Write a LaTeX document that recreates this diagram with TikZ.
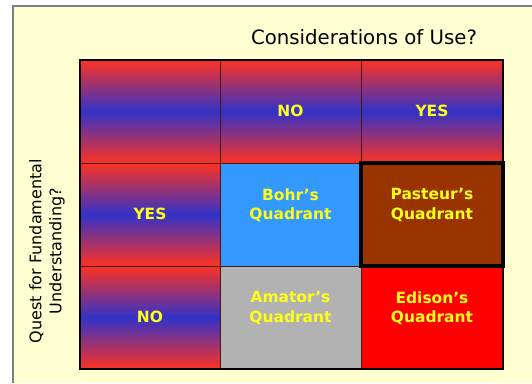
\documentclass[tikz,border=0pt]{standalone}
\usepackage{fontspec}
\setmainfont{DejaVu Sans}
\definecolor{paper}{HTML}{FFFFD2}
\definecolor{headred}{HTML}{F53228}
\definecolor{headblue}{HTML}{3232C8}
\definecolor{bohrblue}{HTML}{3399FF}
\definecolor{pasteurbrown}{HTML}{993300}
\definecolor{amatorgray}{HTML}{B2B2B2}
\definecolor{edisonred}{HTML}{FF0000}
\definecolor{labelyellow}{HTML}{FFFF1A}
\definecolor{gridline}{HTML}{4A1818}
\pgfdeclareverticalshading{redblue}{100bp}{color(0bp)=(headred); color(26bp)=(headred);
  color(50bp)=(headblue); color(74bp)=(headred); color(100bp)=(headred)}

\begin{document}
\begin{tikzpicture}[x=0.75pt,y=-0.75pt,
  cell/.style={font=\bfseries\fontsize{11.6}{14.3}\selectfont,text=labelyellow,align=center},
  axis/.style={font=\fontsize{12}{15}\selectfont,align=center}]
  \useasboundingbox (0,0) rectangle (532,383);

  % slide background
  \fill[paper] (13,6) rectangle (532,383);
  \draw[gray,line width=1.5pt] (13,383) -- (13,6) -- (532,6);

  % header row and header column
  \foreach \x/\xx in {80/220,220/361,361/503}
    \shade[shading=redblue] (\x,60) rectangle (\xx,163);
  \foreach \y/\yy in {163/266,266/369}
    \shade[shading=redblue] (80,\y) rectangle (220,\yy);

  % quadrants
  \fill[bohrblue] (220,163) rectangle (361,266);
  \fill[pasteurbrown] (361,163) rectangle (503,266);
  \fill[amatorgray] (220,266) rectangle (361,369);
  \fill[edisonred] (361,266) rectangle (503,369);

  % grid
  \draw[gridline,line width=0.7pt] (220,60) -- (220,369) (361,60) -- (361,369)
    (80,163) -- (503,163) (80,266) -- (503,266);
  \draw[black,line width=1.5pt] (80,60) rectangle (503,369);
  \draw[black,line width=2.4pt] (361,163) rectangle (503,266);

  % axis titles
  \node[font=\fontsize{14.8}{17}\selectfont] (title) at (364,37) {Considerations of Use?};
  \node[axis,rotate=90] (quest) at (47,251) {Quest for Fundamental\\Understanding?};

  % labels
  \node[cell] (colno) at (290.5,111) {NO};
  \node[cell] (colyes) at (432,111) {YES};
  \node[cell] (rowyes) at (150,214) {YES};
  \node[cell] (rowno) at (150,317) {NO};
  \node[cell] (bohr) at (290.5,205) {Bohr’s\\Quadrant};
  \node[cell] (pasteur) at (432,205) {Pasteur’s\\Quadrant};
  \node[cell] (amator) at (290.5,308) {Amator’s\\Quadrant};
  \node[cell] (edison) at (432,308) {Edison’s\\Quadrant};
\end{tikzpicture}
\end{document}
